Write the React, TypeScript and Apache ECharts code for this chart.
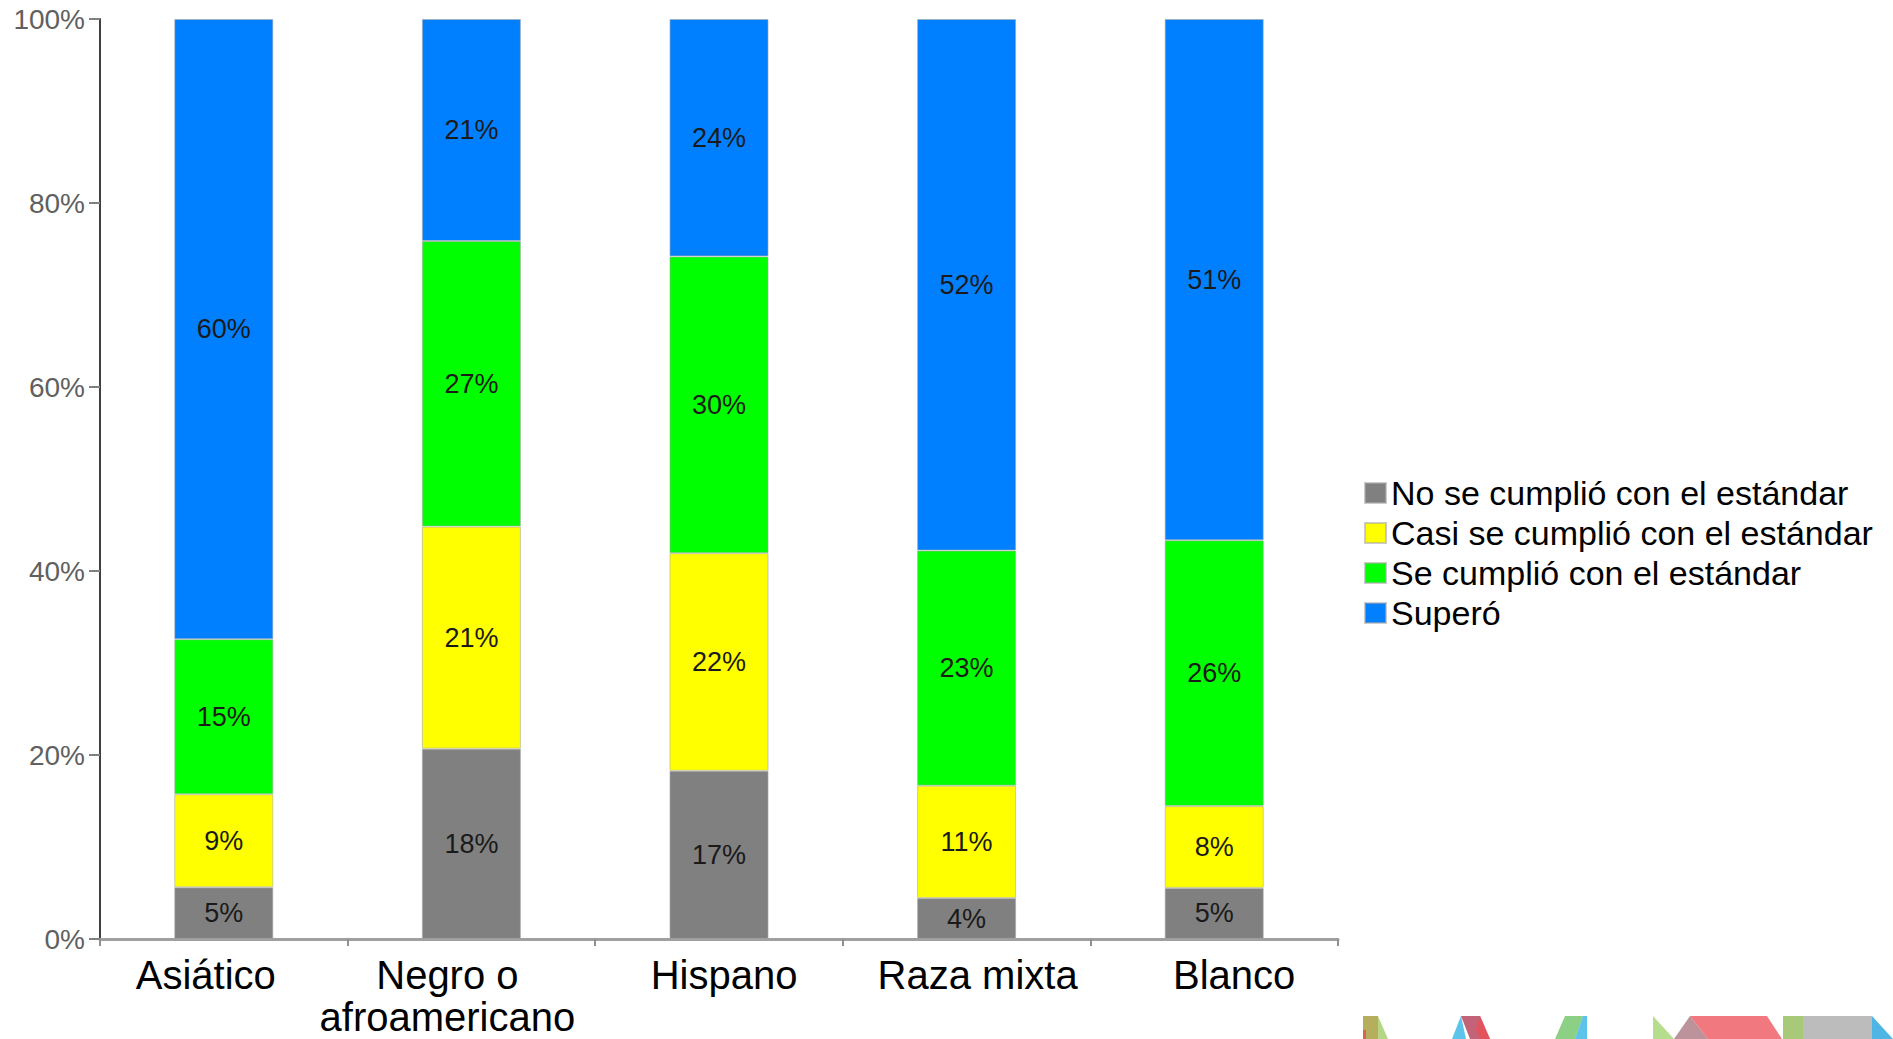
import React, { useEffect, useRef } from "react";
import * as echarts from "echarts";

const categories = ["Asiático", "Negro o\nafroamericano", "Hispano", "Raza mixta", "Blanco"];
const seriesNames = [
  "No se cumplió con el estándar",
  "Casi se cumplió con el estándar",
  "Se cumplió con el estándar",
  "Superó",
];
const noCumplio = [5, 18, 17, 4, 5];
const casiCumplio = [9, 21, 22, 11, 8];
const cumplio = [15, 27, 30, 23, 26];
const supero = [60, 21, 24, 52, 51];
const colors = ["#808080", "#FFFF00", "#00FF00", "#0080FF"];
const yTicks = [0, 20, 40, 60, 80, 100];
// horizontal nudges of the category labels (px), as placed in the original slide
const labelShift = [-18, -24, 5, 11, 20];

const FONT = "'Liberation Sans', Arial, Helvetica, sans-serif";

export default function App() {
  const ref = useRef<HTMLDivElement>(null);
  useEffect(() => {
    if (!ref.current) return;
    const chart = echarts.init(ref.current, null, { renderer: "svg" });
    const raw = [noCumplio, casiCumplio, cumplio, supero];
    const totals = categories.map((_, i) => raw.reduce((s, arr) => s + arr[i], 0));
    const series = raw.map((arr, si) => ({
      name: seriesNames[si],
      type: "bar",
      stack: "total",
      barWidth: "40%",
      itemStyle: { color: colors[si], borderColor: "rgba(170,170,170,0.6)", borderWidth: 1 },
      label: {
        show: true,
        position: "inside",
        fontFamily: FONT,
        fontSize: 27,
        color: "#1a1a1a",
        formatter: (p: any) => `${arr[p.dataIndex]}%`,
      },
      data: arr.map((v, i) => (v / totals[i]) * 100),
    }));

    const logo = [
      { pts: [[1363, 1016], [1378, 1016], [1378, 1039], [1363, 1039]], c: "#a8a040" },
      { pts: [[1363, 1030], [1366, 1030], [1366, 1039], [1363, 1039]], c: "#e85050" },
      { pts: [[1378, 1016], [1388, 1039], [1378, 1039]], c: "#a8d070" },
      { pts: [[1461, 1016], [1452, 1039], [1466, 1039]], c: "#40b8e8" },
      { pts: [[1461, 1016], [1480, 1016], [1490, 1039], [1470, 1039]], c: "#b84860" },
      { pts: [[1480, 1016], [1490, 1039], [1480, 1039], [1476, 1030]], c: "#e85058" },
      { pts: [[1565, 1016], [1583, 1016], [1575, 1039], [1555, 1039]], c: "#78c870" },
      { pts: [[1583, 1016], [1587, 1016], [1587, 1039], [1575, 1039]], c: "#40b8e8" },
      { pts: [[1653, 1016], [1674, 1039], [1653, 1039]], c: "#a8d878" },
      { pts: [[1690, 1016], [1674, 1039], [1708, 1039]], c: "#b08088" },
      { pts: [[1690, 1016], [1767, 1016], [1782, 1039], [1708, 1039]], c: "#f06068" },
      { pts: [[1783, 1016], [1803, 1016], [1803, 1039], [1783, 1039]], c: "#98c060" },
      { pts: [[1803, 1016], [1872, 1016], [1872, 1039], [1803, 1039]], c: "#b0b0b0" },
      { pts: [[1872, 1016], [1893, 1039], [1872, 1039]], c: "#30a8e0" },
    ];

    const xData = categories.map((c, i) => {
      const d = labelShift[i];
      return {
        value: c,
        textStyle: { padding: d >= 0 ? [0, 0, 0, 2 * d] : [0, -2 * d, 0, 0] },
      };
    });

    chart.setOption({
      animation: false,
      backgroundColor: "#ffffff",
      grid: {
        left: 100,
        right: 555,
        top: 19,
        bottom: 100,
        containLabel: false,
        outerBoundsMode: "none",
      },
      legend: {
        orient: "vertical",
        left: 1359,
        top: 468,
        itemWidth: 21,
        itemHeight: 20,
        itemGap: 0,
        icon: "rect",
        data: seriesNames,
        textStyle: { fontFamily: FONT, fontSize: 34, color: "#000", lineHeight: 40 },
      },
      xAxis: {
        type: "category",
        data: xData,
        axisLine: { show: true, lineStyle: { color: "#a0a0a0", width: 3 } },
        axisTick: { show: true, alignWithLabel: false, length: 7, lineStyle: { color: "#909090", width: 2 } },
        axisLabel: {
          interval: 0,
          fontFamily: FONT,
          fontSize: 40,
          lineHeight: 42,
          color: "#000",
          margin: 15,
        },
        splitLine: { show: false },
      },
      yAxis: {
        type: "value",
        min: yTicks[0],
        max: yTicks[yTicks.length - 1],
        interval: yTicks[1] - yTicks[0],
        axisLine: { show: true, lineStyle: { color: "#404040", width: 2 } },
        axisTick: { show: true, length: 11, lineStyle: { color: "#808080", width: 2 } },
        axisLabel: { formatter: "{value}%", fontFamily: FONT, fontSize: 28, color: "#606060", margin: 15 },
        splitLine: { show: false },
      },
      graphic: logo.map((l) => ({
        type: "polygon",
        shape: { points: l.pts },
        style: { fill: l.c, opacity: 0.85 },
        silent: true,
      })),
      series,
    });
    return () => chart.dispose();
  }, []);
  return (
    <div
      ref={ref}
      style={{ position: "fixed", left: 0, top: 0, width: "1893px", height: "1039px" }}
    />
  );
}
